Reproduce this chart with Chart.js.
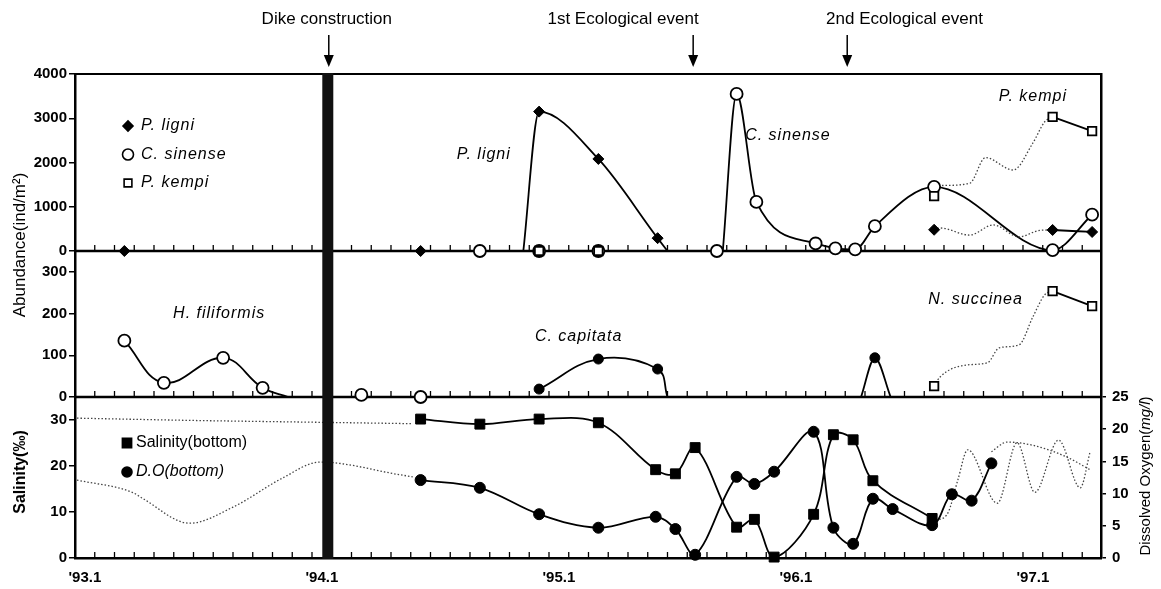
<!DOCTYPE html>
<html>
<head>
<meta charset="utf-8">
<script src="https://cdn.jsdelivr.net/npm/chart.js@4.4.1/dist/chart.umd.min.js"></script>
<style>
  html, body { margin: 0; padding: 0; background: #fff; }
  #wrap { width: 1161px; height: 589px; }
</style>
</head>
<body>
<div id="wrap"><canvas id="chart" width="1161" height="589"></canvas></div>
<script>
// x = months counted from the start of Jan 1993
const yearTicks = [0.5, 12.5, 24.5, 36.5, 48.5];
const yearLabels = ["'93.1", "'94.1", "'95.1", "'96.1", "'97.1"];
const dikeMonth = 12.8;

// top panel, abundance (ind/m2)
const ligniPts = [[2.5,0],[17.5,0],[23.5,3150],[26.5,2080],[29.5,290],[43.5,480],[49.5,475],[51.5,430]];
const ligniCurve = [[22.7,0],[23.5,3150],[26.5,2080],[29.5,290],[30.0,0]];
const ligniDotted = [[43.5,480],[43.8,520],[45.3,360],[46.5,590],[47.8,320],[48.9,470],[49.5,475]];
const ligniEnd = [[49.5,475],[51.5,430]];

const sinensePts = [[20.5,0],[23.5,0],[26.5,0],[32.5,0],[33.5,3550],[34.5,1110],[37.5,170],[38.5,60],[39.5,35],[40.5,560],[43.5,1450],[49.5,20],[51.5,820]];
const sinenseCurve = [[32.8,0],[33.5,3550],[34.5,1110],[37.5,170],[38.5,60],[39.5,35],[40.5,560],[43.5,1450],[49.5,20],[51.5,820]];

const kempiPts = [[23.5,0],[26.5,0],[43.5,1240],[49.5,3030],[51.5,2710]];
const kempiDotted = [[43.9,1480],[45.3,1530],[46.1,2110],[47.5,1830],[48.5,2440],[49.1,2920],[49.5,3030]];
const kempiEnd = [[49.5,3030],[51.5,2710]];

// middle panel, abundance (ind/m2)
const filiformisPts = [[2.5,135],[4.5,34],[7.5,94],[9.5,22],[14.5,5],[17.5,0]];
const filiformisCurve = [[2.5,135],[4.5,34],[7.5,94],[9.5,22],[10.8,0]];
const capitataPts = [[23.5,19],[26.5,91],[29.5,67],[40.5,94]];
const capitataCurve1 = [[23.5,19],[26.5,91],[29.5,67],[30.0,0]];
const capitataCurve2 = [[39.8,0],[40.5,94],[41.3,0]];
const succineaPts = [[43.5,26],[49.5,254],[51.5,218]];
const succineaDotted = [[43.5,26],[43.8,48],[45.2,77],[46.2,82],[46.8,118],[47.8,125],[48.5,192],[49.1,245],[49.5,254]];
const succineaEnd = [[49.5,254],[51.5,218]];

// bottom panel, salinity (permil) and D.O (mg/l)
const salinityPts = [[17.5,30.2],[20.5,29.1],[23.5,30.2],[26.5,29.4],[29.4,19.2],[30.4,18.3],[31.4,24.0],[33.5,6.7],[34.4,8.4],[35.4,0.2],[37.4,9.5],[38.4,26.8],[39.4,25.7],[40.4,16.8],[43.4,8.6]];
const doPts = [[17.5,12.1],[20.5,10.9],[23.5,6.8],[26.5,4.7],[29.4,6.4],[30.4,4.5],[31.4,0.5],[33.5,12.6],[34.4,11.5],[35.4,13.4],[37.4,19.6],[38.4,4.7],[39.4,2.2],[40.4,9.2],[41.4,7.6],[43.4,5.1],[44.4,9.9],[45.4,8.9],[46.4,14.7]];
const salinityEarly = [[0.1,30.4],[6,29.9],[12.4,29.5],[17.1,29.2]];
const doEarly = [[0.1,12.1],[2.9,10.2],[3.4,9.3],[5.8,5.4],[8.0,7.9],[10.5,12.4],[12.4,14.9],[16.5,12.9],[17.1,12.6]];
const lateWave = [[43.6,5.8],[44.2,7.0],[44.7,12.1],[45.2,16.8],[46.7,8.5],[47.7,17.9],[48.6,10.2],[49.8,18.3],[50.9,10.9],[51.4,16.5]];
const lateSmooth = [[46.4,16.5],[47.2,18.0],[48.5,17.5],[50.2,15.7],[51.4,13.7]];

// panel heights (px) used as stack weights
const wTop = 177, wMid = 146, wBot = 161;
const doMax = 25 * (wTop + wMid + wBot) / wBot;

const FONT = '"Liberation Sans", Arial, sans-serif';
Chart.defaults.font.family = FONT;
Chart.defaults.color = '#000';

const xy = a => a.map(([x, y]) => ({x, y}));

function curve(data, axis, extra) {
  return Object.assign({
    data: xy(data), yAxisID: axis, borderColor: '#000', borderWidth: 1.8,
    pointRadius: 0, fill: false, cubicInterpolationMode: 'monotone', clip: 8, order: 2
  }, extra);
}
function dotted(data, axis) {
  return curve(data, axis, {borderColor: '#444', borderWidth: 1.3, borderDash: [1.5, 2]});
}
function marks(data, axis, style, r, filled) {
  return {
    data: xy(data), yAxisID: axis, showLine: false, pointStyle: style, pointRadius: r,
    pointBackgroundColor: filled ? '#000' : '#fff', pointBorderColor: '#000',
    pointBorderWidth: filled ? 1 : 1.8, clip: 8, order: 1
  };
}

const datasets = [
  curve(ligniCurve, 'yA'), dotted(ligniDotted, 'yA'), curve(ligniEnd, 'yA'),
  curve(sinenseCurve, 'yA'),
  dotted(kempiDotted, 'yA'), curve(kempiEnd, 'yA'),
  curve(filiformisCurve, 'yM', {cubicInterpolationMode: 'default', tension: 0.4}),
  curve(capitataCurve1, 'yM', {cubicInterpolationMode: 'default', tension: 0.4}),
  curve(capitataCurve2, 'yM'),
  dotted(succineaDotted, 'yM'), curve(succineaEnd, 'yM'),
  curve(salinityPts, 'yS', {cubicInterpolationMode: 'default', tension: 0.35}),
  curve(doPts, 'yD', {cubicInterpolationMode: 'default', tension: 0.35}),
  dotted(salinityEarly, 'yS'), dotted(doEarly, 'yD'),
  dotted(lateWave, 'yD'), dotted(lateSmooth, 'yD'),
  marks(kempiPts, 'yA', 'rect', 6, false),
  marks(ligniPts, 'yA', 'rectRot', 5.5, true),
  marks(sinensePts, 'yA', 'circle', 6, false),
  marks(filiformisPts, 'yM', 'circle', 6, false),
  marks(capitataPts, 'yM', 'circle', 5, true),
  marks(succineaPts, 'yM', 'rect', 6, false),
  marks(salinityPts, 'yS', 'rect', 7, true),
  marks(doPts, 'yD', 'circle', 5.5, true)
];

const panelLabels = [
  {text: 'P. ligni', m: 20.7, v: 2170, axis: 'yA'},
  {text: 'C. sinense', m: 36.1, v: 2620, axis: 'yA'},
  {text: 'P. kempi', m: 48.5, v: 3480, axis: 'yA'},
  {text: 'H. filiformis', m: 7.3, v: 199, axis: 'yM'},
  {text: 'C. capitata', m: 25.5, v: 144, axis: 'yM'},
  {text: 'N. succinea', m: 45.6, v: 233, axis: 'yM'}
];
const events = [
  {text: 'Dike construction', m: 12.85, textM: 12.75},
  {text: '1st Ecological event', m: 31.3, textM: 27.75},
  {text: '2nd Ecological event', m: 39.1, textM: 42.0}
];
const topLegend = [
  {text: 'P. ligni', style: 'rectRot', r: 5, filled: true},
  {text: 'C. sinense', style: 'circle', r: 5.5, filled: false},
  {text: 'P. kempi', style: 'rect', r: 5.5, filled: false}
];
const bottomLegend = [
  {text: 'Salinity(bottom)', style: 'rect', r: 6.5, filled: true, italic: false},
  {text: 'D.O(bottom)', style: 'circle', r: 5, filled: true, italic: true}
];

function marker(ctx, item, x, y) {
  ctx.save();
  ctx.fillStyle = item.filled ? '#000' : '#fff';
  ctx.strokeStyle = '#000';
  ctx.lineWidth = 1.6;
  Chart.helpers.drawPoint(ctx, {pointStyle: item.style, radius: item.r, borderWidth: 1.6, rotation: 0}, x, y);
  ctx.restore();
}

const decor = {
  id: 'decor',
  beforeDatasetsDraw(chart) {
    const {ctx, chartArea: a, scales} = chart;
    const xs = scales.x;
    ctx.save();
    ctx.strokeStyle = '#000';
    // top frame and panel baselines
    ctx.lineWidth = 2;
    ctx.beginPath(); ctx.moveTo(a.left, a.top); ctx.lineTo(a.right, a.top); ctx.stroke();
    const bases = [scales.yA.getPixelForValue(0), scales.yM.getPixelForValue(0), scales.yS.getPixelForValue(0)];
    ctx.lineWidth = 2.5;
    bases.slice(0, 2).forEach(y => { ctx.beginPath(); ctx.moveTo(a.left, y); ctx.lineTo(a.right, y); ctx.stroke(); });
    // monthly tick marks
    ctx.lineWidth = 1.3;
    for (let m = 1; m < 52; m++) {
      const x = xs.getPixelForValue(m);
      bases.forEach(y => { ctx.beginPath(); ctx.moveTo(x, y); ctx.lineTo(x, y - 6); ctx.stroke(); });
    }
    ctx.restore();
  },
  afterDatasetsDraw(chart) {
    const {ctx, chartArea: a, scales} = chart;
    const x = scales.x.getPixelForValue(dikeMonth);
    ctx.save();
    ctx.fillStyle = '#111';
    ctx.fillRect(x - 5.5, a.top - 1, 11, a.bottom - a.top + 2);
    ctx.restore();
  },
  afterDraw(chart) {
    const {ctx, scales} = chart;
    const xs = scales.x;
    ctx.save();
    ctx.fillStyle = '#000';
    ctx.strokeStyle = '#000';
    ctx.textBaseline = 'middle';

    // event headers with arrows
    ctx.font = '17px ' + FONT;
    ctx.textAlign = 'center';
    events.forEach(e => {
      ctx.fillText(e.text, xs.getPixelForValue(e.textM), 19);
      const x = xs.getPixelForValue(e.m);
      ctx.lineWidth = 1.5;
      ctx.beginPath(); ctx.moveTo(x, 35); ctx.lineTo(x, 58); ctx.stroke();
      ctx.beginPath(); ctx.moveTo(x - 5, 55); ctx.lineTo(x + 5, 55); ctx.lineTo(x, 67); ctx.closePath(); ctx.fill();
    });

    // species labels inside panels
    ctx.font = 'italic 16px ' + FONT;
    ctx.letterSpacing = '1px';
    panelLabels.forEach(l => {
      ctx.fillText(l.text, xs.getPixelForValue(l.m), scales[l.axis].getPixelForValue(l.v));
    });

    // legends
    ctx.textAlign = 'left';
    topLegend.forEach((item, i) => {
      const y = 126 + i * 28.5;
      marker(ctx, item, 128, y);
      ctx.fillStyle = '#000';
      ctx.fillText(item.text, 141, y);
    });
    ctx.letterSpacing = '0px';
    bottomLegend.forEach((item, i) => {
      const y = 443 + i * 29;
      marker(ctx, item, 127, y);
      ctx.fillStyle = '#000';
      ctx.font = (item.italic ? 'italic ' : '') + '16px ' + FONT;
      ctx.fillText(item.text, 136, y);
    });

    // axis titles
    ctx.textAlign = 'center';
    ctx.save();
    ctx.translate(20, 245); ctx.rotate(-Math.PI / 2);
    ctx.font = '17px ' + FONT;
    ctx.fillText('Abundance(ind/m²)', 0, 0);
    ctx.restore();
    ctx.save();
    ctx.translate(21, 472); ctx.rotate(-Math.PI / 2);
    ctx.font = 'bold 16px ' + FONT;
    ctx.fillText('Salinity(‰)', 0, 0);
    ctx.restore();
    ctx.save();
    ctx.translate(1146, 476); ctx.rotate(-Math.PI / 2);
    ctx.textAlign = 'left';
    const parts = [['Dissolved Oxygen(', '15px '], ['mg/l', 'italic 15px '], [')', '15px ']];
    let total = 0;
    parts.forEach(p => { ctx.font = p[1] + FONT; total += ctx.measureText(p[0]).width; });
    let cx = -total / 2;
    parts.forEach(p => { ctx.font = p[1] + FONT; ctx.fillText(p[0], cx, 0); cx += ctx.measureText(p[0]).width; });
    ctx.restore();

    ctx.restore();
  }
};

const yCommon = {
  position: 'left', stack: 'panels',
  border: {color: '#000', width: 2.5},
  grid: {display: true, drawOnChartArea: false, drawTicks: true, tickLength: 6, color: '#000', lineWidth: 1.5},
  ticks: {font: {size: 15, weight: 'bold'}, padding: 2, includeBounds: false, callback: v => String(v)},
  afterFit: s => { s.width = 50; }
};

new Chart(document.getElementById('chart').getContext('2d'), {
  type: 'line',
  data: {datasets},
  options: {
    responsive: false,
    animation: false,
    devicePixelRatio: 1,
    layout: {padding: {left: 25, right: 30, top: 74, bottom: 0}},
    plugins: {legend: {display: false}, tooltip: {enabled: false}},
    scales: {
      x: {
        type: 'linear', min: 0, max: 51.95,
        border: {color: '#000', width: 2.5},
        grid: {display: false, drawTicks: false},
        ticks: {
          autoSkip: false, maxRotation: 0, padding: 11,
          font: {size: 15, weight: 'bold'},
          callback: (v, i) => yearLabels[i]
        },
        afterBuildTicks: s => { s.ticks = yearTicks.map(v => ({value: v})); },
        afterFit: s => { s.height = 31; }
      },
      yA: Object.assign({}, yCommon, {min: 0, max: 4000, weight: 3, stackWeight: wTop,
        ticks: Object.assign({}, yCommon.ticks, {stepSize: 1000})}),
      yM: Object.assign({}, yCommon, {min: 0, max: 350, weight: 2, stackWeight: wMid,
        ticks: Object.assign({}, yCommon.ticks, {stepSize: 100})}),
      yS: Object.assign({}, yCommon, {min: 0, max: 35, weight: 1, stackWeight: wBot,
        ticks: Object.assign({}, yCommon.ticks, {stepSize: 10})}),
      yD: {
        position: 'right', min: 0, max: doMax,
        border: {color: '#000', width: 2.5},
        grid: {display: true, drawOnChartArea: false, drawTicks: true, tickLength: 5, color: '#000', lineWidth: 1.5},
        ticks: {stepSize: 5, includeBounds: false, padding: 6, font: {size: 15, weight: 'bold'}, callback: v => String(v)},
        afterBuildTicks: s => { s.ticks = s.ticks.filter(t => t.value <= 25); },
        afterFit: s => { s.width = 30; }
      }
    }
  },
  plugins: [decor]
});
</script>
</body>
</html>
